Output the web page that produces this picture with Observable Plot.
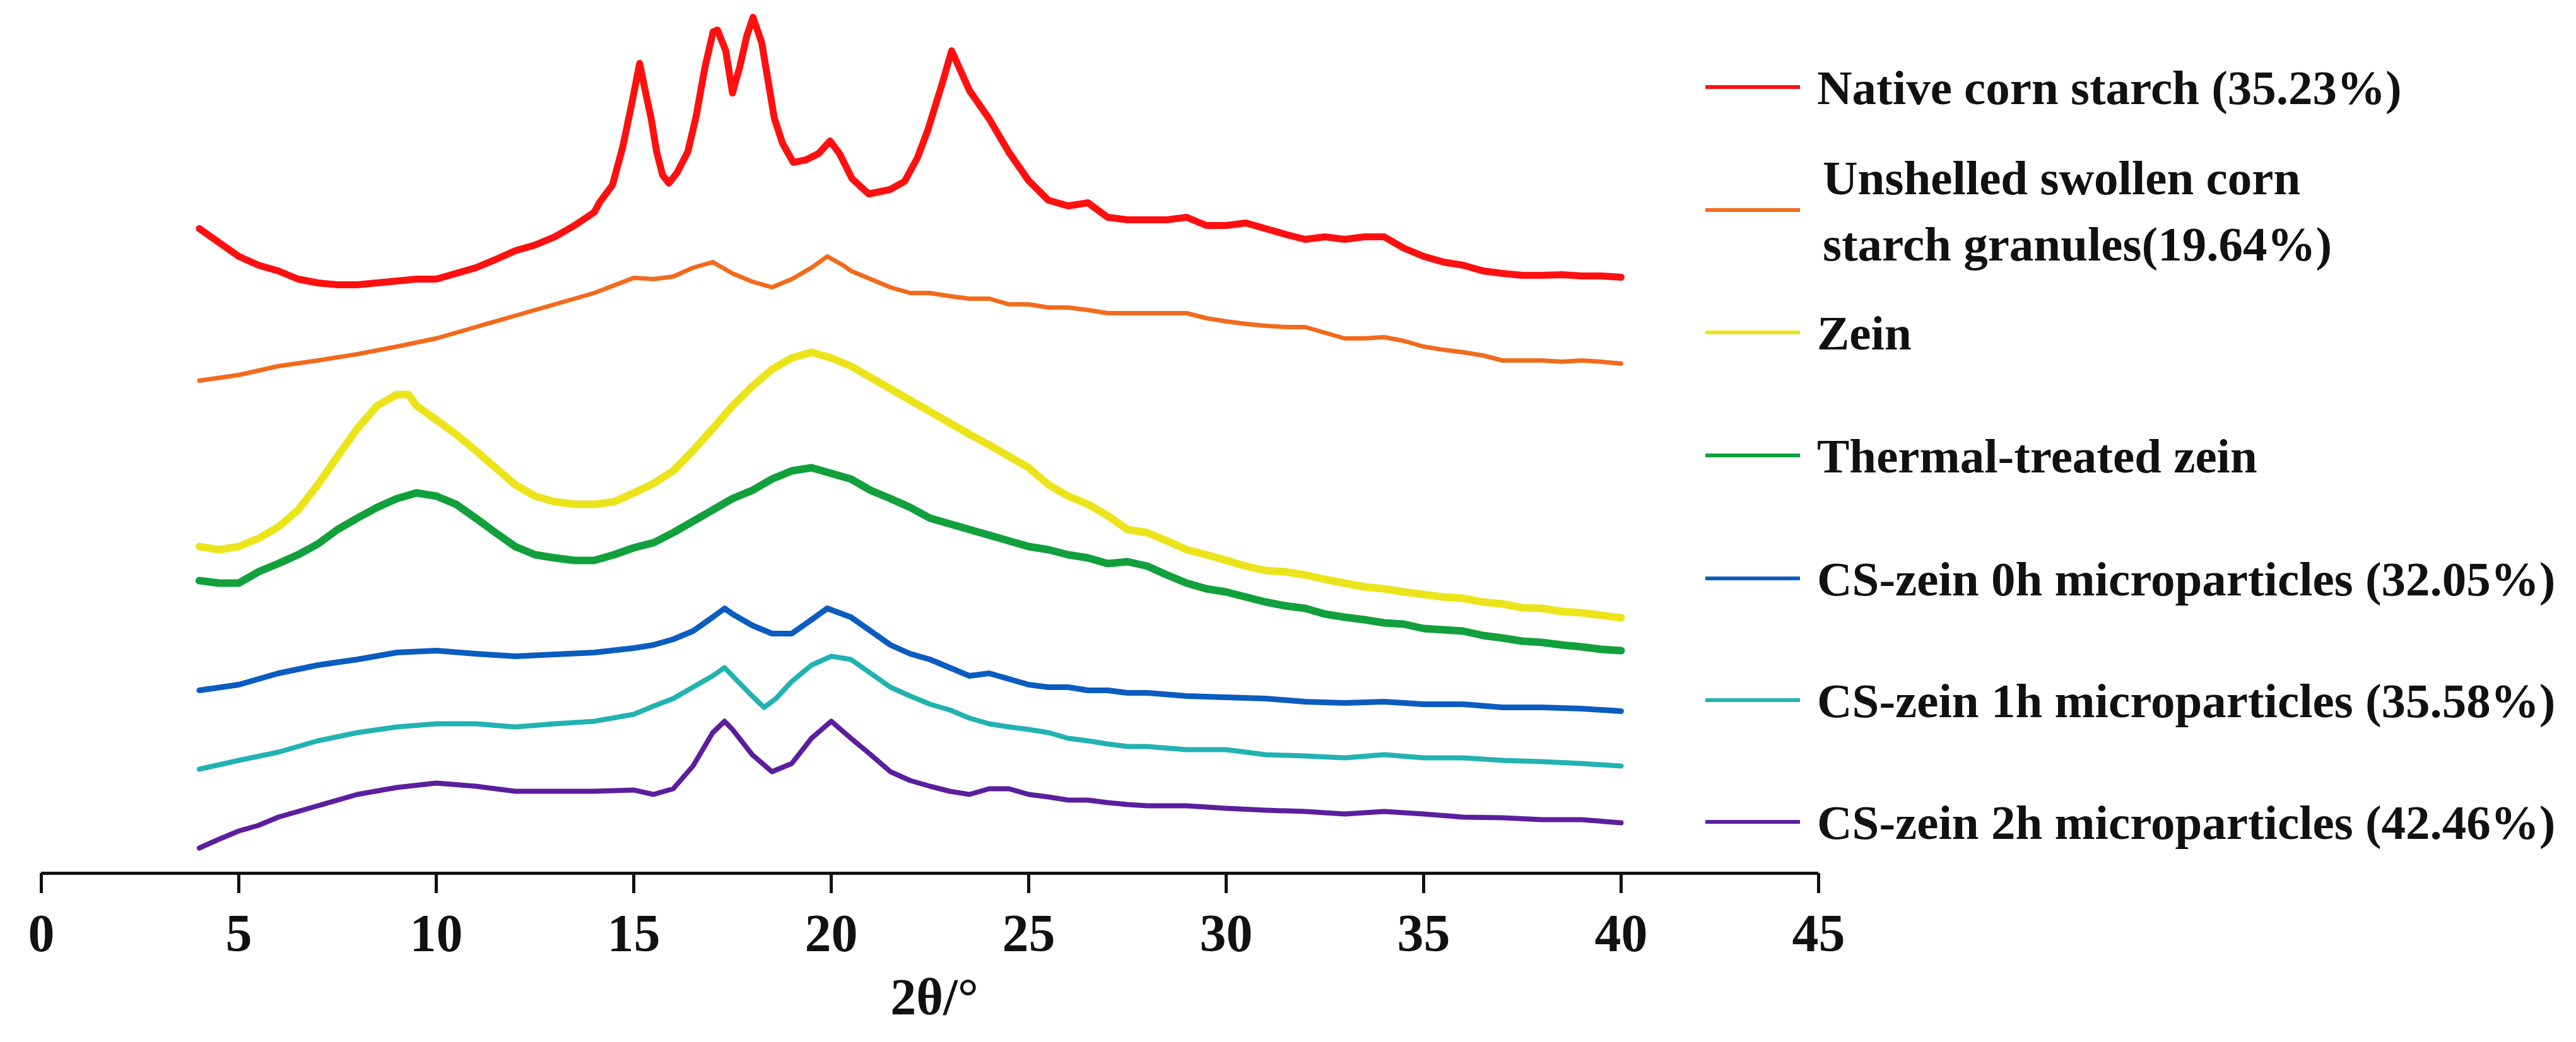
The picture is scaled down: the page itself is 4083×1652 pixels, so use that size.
<!DOCTYPE html>
<html>
<head>
<meta charset="utf-8">
<script src="https://cdn.jsdelivr.net/npm/d3@7"></script>
<script src="https://cdn.jsdelivr.net/npm/@observablehq/plot@0.6"></script>
<style>
  body { margin: 0; background: #fff; }
  #chart { position: relative; width: 4083px; height: 1652px; }
</style>
</head>
<body>
<div id="chart"></div>
<script>
// ---- data (2θ in degrees, intensity in arbitrary stacked units) ----
const xTicks = [0, 5, 10, 15, 20, 25, 30, 35, 40, 45];

const nativeCornStarch = [[4,102.2],[4.5,100],[5,97.8],[5.5,96.4],[6,95.5],[6.5,94.2],[7,93.6],[7.5,93.3],[8,93.3],[8.5,93.6],[9,93.9],[9.5,94.2],[10,94.2],[10.5,95.1],[11,96],[11.5,97.3],[12,98.7],[12.5,99.6],[13,100.9],[13.5,102.7],[14,104.8],[14.14,106.4],[14.46,109.1],[14.72,115.1],[14.94,121.7],[15.15,128.4],[15.28,124.4],[15.44,119.7],[15.58,114.4],[15.73,110.7],[15.89,109.4],[16.1,111.1],[16.37,114.4],[16.58,120],[16.8,127.7],[17.01,133.4],[17.12,133.7],[17.33,130.4],[17.45,125.7],[17.5,123.7],[17.6,126],[17.68,127.7],[17.86,132.7],[18.02,135.7],[18.24,131.7],[18.4,125.7],[18.56,119.7],[18.77,115.7],[19.04,112.7],[19.36,113.1],[19.68,114.1],[19.97,116.1],[20.21,114.1],[20.53,110.1],[20.95,107.7],[21.49,108.4],[21.86,109.7],[22.18,113.4],[22.44,117.7],[22.8,125],[23.05,130.4],[23.5,124.1],[24,119.6],[24.5,114.3],[25,109.8],[25.5,106.7],[26,105.8],[26.5,106.3],[27,104],[27.5,103.6],[28,103.6],[28.5,103.6],[29,104],[29.5,102.7],[30,102.7],[30.5,103.1],[31,102.2],[31.5,101.3],[32,100.5],[32.5,100.9],[33,100.5],[33.5,100.9],[34,100.9],[34.5,99.1],[35,97.8],[35.5,96.9],[36,96.4],[36.5,95.5],[37,95.1],[37.5,94.8],[38,94.8],[38.5,94.9],[39,94.7],[39.5,94.7],[40,94.5]];

const unshelledSwollen = [[4,78.1],[5,79],[6,80.4],[7,81.3],[8,82.3],[9,83.5],[10,84.8],[11,86.6],[12,88.4],[13,90.2],[14,92],[15,94.4],[15.5,94.2],[16,94.6],[16.5,96],[17,96.9],[17.5,95.1],[18,93.8],[18.5,92.9],[19,94.2],[19.5,96],[19.9,97.8],[20.3,96.4],[20.5,95.5],[21,94.2],[21.5,92.9],[22,92],[22.5,92],[23,91.5],[23.5,91.1],[24,91.1],[24.5,90.2],[25,90.2],[25.5,89.7],[26,89.7],[26.5,89.3],[27,88.8],[27.5,88.8],[28,88.8],[28.5,88.8],[29,88.8],[29.5,88],[30,87.5],[30.5,87.1],[31,86.8],[31.5,86.6],[32,86.6],[32.5,85.7],[33,84.8],[33.5,84.8],[34,85],[34.5,84.4],[35,83.5],[35.5,83],[36,82.6],[36.5,82.1],[37,81.3],[37.5,81.3],[38,81.3],[38.5,81.1],[39,81.3],[39.5,81.1],[40,80.8]];

const zein = [[4,51.8],[4.5,51.3],[5,51.8],[5.5,53.1],[6,54.9],[6.5,57.6],[7,61.6],[7.5,66.1],[8,70.5],[8.5,74.1],[9,75.9],[9.3,75.9],[9.5,74.1],[10,71.9],[10.5,69.6],[11,67],[11.5,64.3],[12,61.6],[12.5,59.8],[13,58.9],[13.5,58.5],[14,58.5],[14.5,58.9],[15,60.3],[15.5,61.8],[16,63.8],[16.5,67],[17,70.5],[17.5,74.1],[18,77.2],[18.5,79.9],[19,81.7],[19.5,82.6],[20,81.7],[20.5,80.4],[21,78.6],[21.5,76.8],[22,75],[22.5,73.2],[23,71.4],[23.5,69.6],[24,67.9],[24.5,66.1],[25,64.3],[25.5,61.6],[26,59.8],[26.5,58.5],[27,56.7],[27.5,54.5],[28,54],[28.5,52.7],[29,51.3],[29.5,50.5],[30,49.6],[30.5,48.7],[31,48],[31.5,47.8],[32,47.3],[32.5,46.6],[33,46],[33.5,45.4],[34,45.1],[34.5,44.6],[35,44.2],[35.5,43.8],[36,43.6],[36.5,43],[37,42.7],[37.5,42.1],[38,42],[38.5,41.5],[39,41.3],[39.5,40.9],[40,40.5]];

const thermalZein = [[4,46.4],[4.5,46],[5,46],[5.5,47.8],[6,49.1],[6.5,50.5],[7,52.2],[7.5,54.5],[8,56.3],[8.5,58],[9,59.4],[9.5,60.3],[10,59.8],[10.5,58.5],[11,56.3],[11.5,54],[12,51.8],[12.5,50.5],[13,50],[13.5,49.6],[14,49.6],[14.5,50.5],[15,51.6],[15.5,52.4],[16,54],[16.5,55.8],[17,57.6],[17.5,59.4],[18,60.7],[18.5,62.5],[19,63.8],[19.5,64.3],[20,63.4],[20.5,62.5],[21,60.7],[21.5,59.4],[22,58],[22.5,56.3],[23,55.4],[23.5,54.5],[24,53.6],[24.5,52.7],[25,51.8],[25.5,51.3],[26,50.5],[26.5,50],[27,49.1],[27.5,49.4],[28,48.7],[28.5,47.3],[29,46],[29.5,45.1],[30,44.6],[30.5,43.8],[31,43],[31.5,42.4],[32,42],[32.5,41.1],[33,40.6],[33.5,40.2],[34,39.7],[34.5,39.5],[35,38.8],[35.5,38.6],[36,38.4],[36.5,37.7],[37,37.3],[37.5,36.8],[38,36.6],[38.5,36.2],[39,35.9],[39.5,35.5],[40,35.3]];

const csZein0h = [[4,29],[5,29.9],[6,31.7],[7,33],[8,33.9],[9,35],[10,35.3],[11,34.8],[12,34.4],[13,34.7],[14,35],[15,35.7],[15.5,36.2],[16,37.1],[16.5,38.4],[17,40.6],[17.3,42],[17.5,41.1],[18,39.3],[18.5,38],[19,38],[19.5,40.2],[19.9,42],[20.5,40.6],[21,38.4],[21.5,36.2],[22,34.8],[22.5,33.9],[23,32.6],[23.5,31.3],[24,31.7],[24.5,30.8],[25,29.9],[25.5,29.5],[26,29.5],[26.5,29],[27,29],[27.5,28.6],[28,28.6],[29,28.1],[30,27.9],[31,27.7],[32,27.2],[33,27],[34,27.2],[35,26.8],[36,26.8],[37,26.3],[38,26.3],[39,26.1],[40,25.7]];

const csZein1h = [[4,16.5],[5,17.9],[6,19.2],[7,21],[8,22.3],[9,23.2],[10,23.7],[11,23.7],[12,23.2],[13,23.7],[14,24.1],[15,25.2],[15.5,26.5],[16,27.7],[16.5,29.5],[17,31.3],[17.3,32.6],[17.5,31.3],[18,28.1],[18.3,26.3],[18.6,27.7],[19,30.4],[19.5,33],[20,34.4],[20.5,33.9],[21,31.7],[21.5,29.5],[22,28.1],[22.5,26.8],[23,25.9],[23.5,24.6],[24,23.7],[24.5,23.2],[25,22.8],[25.5,22.3],[26,21.4],[26.5,21],[27,20.5],[27.5,20.1],[28,20.1],[29,19.6],[30,19.6],[31,18.8],[32,18.6],[33,18.3],[34,18.8],[35,18.3],[36,18.3],[37,17.9],[38,17.7],[39,17.4],[40,17]];

const csZein2h = [[4,4],[4.5,5.4],[5,6.7],[5.5,7.6],[6,8.9],[7,10.7],[8,12.5],[9,13.6],[10,14.3],[11,13.8],[12,13],[13,13],[14,13],[15,13.2],[15.5,12.5],[16,13.4],[16.5,17],[17,22.3],[17.3,24.1],[17.5,22.8],[18,18.8],[18.5,16.1],[19,17.4],[19.5,21.4],[20,24.1],[20.5,21.4],[21,18.8],[21.5,16.1],[22,14.7],[22.5,13.8],[23,13],[23.5,12.5],[24,13.4],[24.5,13.4],[25,12.5],[25.5,12.1],[26,11.6],[26.5,11.6],[27,11.2],[27.5,10.9],[28,10.7],[29,10.7],[30,10.3],[31,10],[32,9.8],[33,9.4],[34,9.8],[35,9.4],[36,8.9],[37,8.8],[38,8.5],[39,8.5],[40,8]];

const seriesLabels = [
  ["Native corn starch (35.23%)"],
  ["Unshelled swollen corn", "starch granules(19.64%)"],
  ["Zein"],
  ["Thermal-treated zein"],
  ["CS-zein 0h microparticles (32.05%)"],
  ["CS-zein 1h microparticles (35.58%)"],
  ["CS-zein 2h microparticles (42.46%)"]
];
const seriesValues = [nativeCornStarch, unshelledSwollen, zein, thermalZein, csZein0h, csZein1h, csZein2h];
const seriesColors = ["#ff1010", "#f26b1d", "#ece41a", "#12a03c", "#0a5cc0", "#22b2b2", "#5b1f9e"];
const seriesWidths = [11, 7, 12, 12, 9, 8, 8];

// ---- chart ----
const W = 4083, H = 1652;
const lineMarks = seriesValues.map((vals, i) =>
  Plot.line(vals, {x: d => d[0], y: d => d[1], stroke: seriesColors[i], strokeWidth: seriesWidths[i], strokeLinejoin: "round"})
);

const plot = Plot.plot({
  width: W,
  height: H,
  marginLeft: 65,
  marginRight: 1201,
  marginTop: 0,
  marginBottom: 268,
  x: {domain: [0, 45]},
  y: {domain: [0, 138.4], axis: null},
  style: {fontFamily: "'Liberation Serif', 'DejaVu Serif', serif", background: "#fff", color: "#111"},
  marks: [
    ...lineMarks,
    Plot.ruleY([0], {x1: 0, x2: 45, stroke: "#111", strokeWidth: 5}),
    Plot.axisX({ticks: xTicks, tickFormat: d => String(d), tickSize: 32, tickPadding: 32,
                fontSize: 84, fontWeight: "bold", strokeWidth: 5, stroke: "#111", label: null}),
    Plot.text(["2θ/°"], {text: d => d, frameAnchor: "bottom", dy: 223, dx: 7, fontSize: 82, fontWeight: "bold", fill: "#111"})
  ]
});

// ---- legend (drawn into the same svg) ----
const legendY = [138, 333, 527, 722, 917, 1110, 1303];
const svg = d3.select(plot);
const lg = svg.append("g")
  .attr("font-family", "'Liberation Serif', serif")
  .attr("font-weight", "bold")
  .attr("font-size", 77)
  .attr("text-anchor", "start")
  .attr("fill", "#111");
seriesLabels.forEach((lines, i) => {
  const y = legendY[i];
  lg.append("line").attr("x1", 2703).attr("x2", 2853).attr("y1", y).attr("y2", y)
    .attr("stroke", seriesColors[i]).attr("stroke-width", 6);
  if (lines.length === 1) {
    lg.append("text").attr("x", 2880).attr("y", y + 27).attr("text-anchor", "start").text(lines[0]);
  } else {
    lg.append("text").attr("x", 2889).attr("y", y - 25).attr("text-anchor", "start").text(lines[0]);
    lg.append("text").attr("x", 2889).attr("y", y + 80).attr("text-anchor", "start").text(lines[1]);
  }
});

document.getElementById("chart").appendChild(plot);
</script>
</body>
</html>
